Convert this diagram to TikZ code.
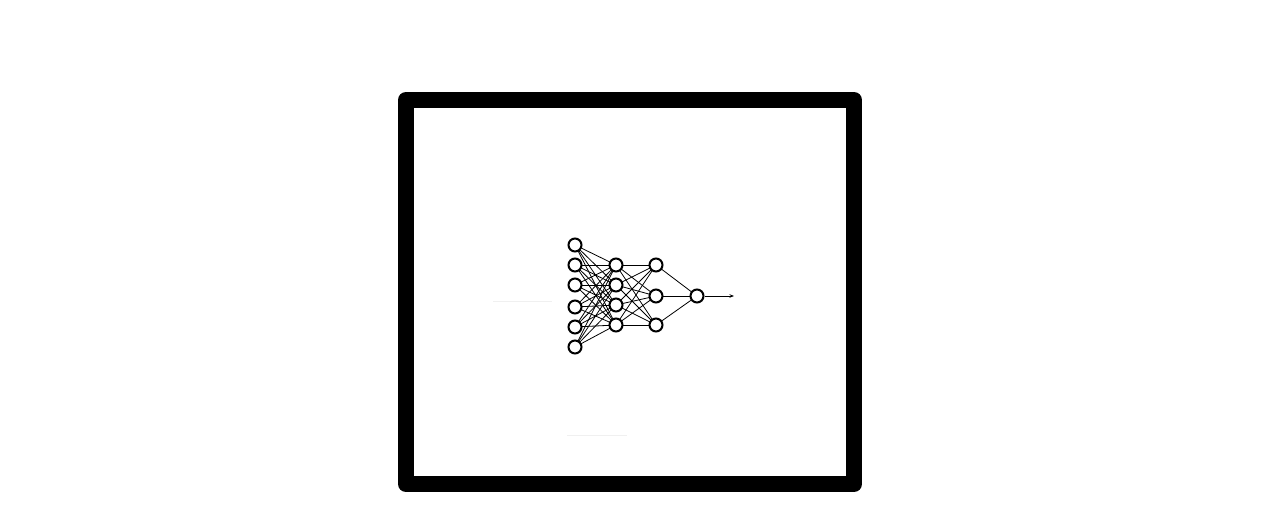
\documentclass[tikz,border=0pt]{standalone}
\usetikzlibrary{arrows.meta,backgrounds}
\begin{document}
\begin{tikzpicture}[x=1pt,y=-1pt,
  neuron/.style={circle,draw=black,line width=2pt,fill=white,minimum size=13pt,inner sep=0pt},
  conn/.style={line width=0.8pt,black},
  faint/.style={line width=1pt,color=black!6},
  frame/.style={line width=16pt,line join=round}]
\useasboundingbox (0,0) rectangle (1281,516);
\draw[frame] (406,100) rectangle (854,484);
\coordinate (fa1) at (493,301);
\coordinate (fa2) at (552,301);
\coordinate (fb1) at (567,435);
\coordinate (fb2) at (627,435);
\draw[faint] (fa1) -- (fa2);
\draw[faint] (fb1) -- (fb2);
% layers
\foreach \y [count=\i] in {245,265,285,307,327,347} \node[neuron] (a\i) at (575,\y) {};
\foreach \y [count=\i] in {265,285,305,325} \node[neuron] (b\i) at (616,\y) {};
\foreach \y [count=\i] in {265,296,325} \node[neuron] (c\i) at (656,\y) {};
\node[neuron] (d1) at (697,296) {};
\coordinate (out) at (734,296);
\begin{pgfonlayer}{background}
\foreach \i in {1,...,6} \foreach \j in {1,...,4} \draw[conn] (a\i.center) -- (b\j.center);
\foreach \i in {1,...,4} \foreach \j in {1,...,3} \draw[conn] (b\i.center) -- (c\j.center);
\foreach \i in {1,...,3} \draw[conn] (c\i.center) -- (d1.center);
\end{pgfonlayer}
\draw[conn,-{Stealth[length=4.5pt,width=3.5pt]}] (d1) -- (out);
\end{tikzpicture}
\end{document}
